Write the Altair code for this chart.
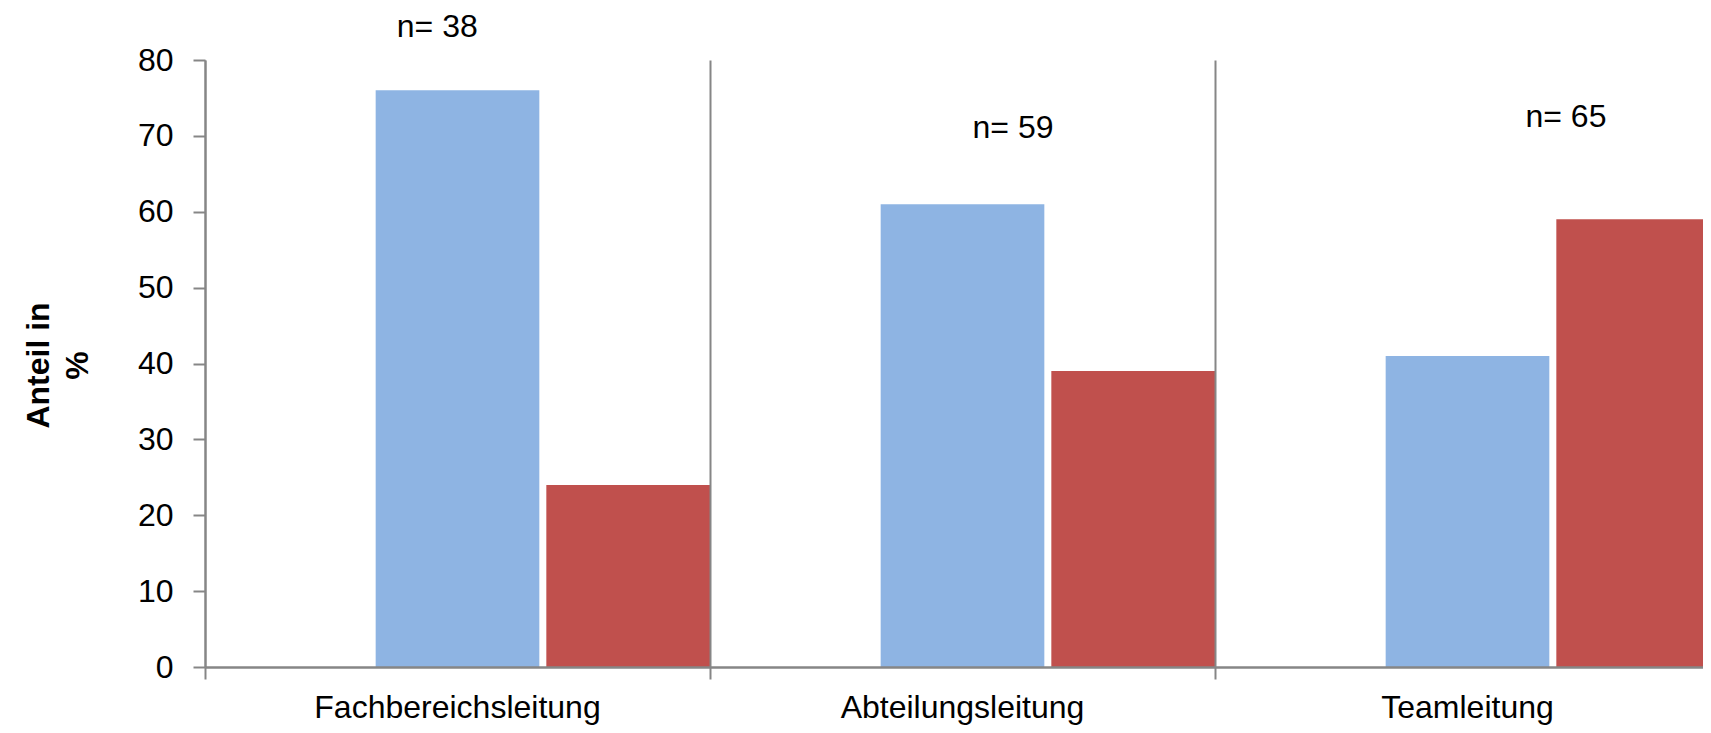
import altair as alt
import pandas as pd

# --- Daten ---
kategorien = ["Fachbereichsleitung", "Abteilungsleitung", "Teamleitung"]
reihen = ["Reihe 1", "Reihe 2", "Reihe 3"]  # Reihe 1 ist leer (wie im Original)
werte_blau = [76, 61, 41]
werte_rot = [24, 39, 59]
n_texte = ["n= 38", "n= 59", "n= 65"]
n_hoehe = [84.3, 71.1, 72.5]
n_lage = [0.46, 0.60, 0.695]
y_ticks = [0, 10, 20, 30, 40, 50, 60, 70, 80]
farben = ["#8EB4E3", "#C0504D"]

rows = []
for k, b, r in zip(kategorien, werte_blau, werte_rot):
    rows.append({"kat": k, "reihe": reihen[1], "wert": b})
    rows.append({"kat": k, "reihe": reihen[2], "wert": r})
df = pd.DataFrame(rows)

FONT = "Liberation Sans, Arial, sans-serif"
FS = 32
GRAU = "#868686"

x_scale = alt.Scale(domain=kategorien, range=[0, 1515], paddingInner=0, paddingOuter=0)
y_scale = alt.Scale(domain=[0, 80], nice=False, zero=True)

x_axis = alt.Axis(
    title=None, bandPosition=0, grid=True, gridColor=GRAU, gridWidth=2,
    ticks=True, tickSize=12, tickWidth=2, tickColor=GRAU,
    domainColor=GRAU, domainWidth=2.5,
    labelPadding=13, labelFont=FONT, labelFontSize=FS, labelLimit=0,
    labelColor="black", labelAngle=0, labelOverlap=False, labelFlush=False,
    zindex=1,
)
y_axis = alt.Axis(
    values=y_ticks, grid=False, domainColor=GRAU, domainWidth=2,
    tickSize=12, tickWidth=2, tickColor=GRAU,
    labelFont=FONT, labelFontSize=FS, labelColor="black", labelPadding=20,
    title=["Anteil in", "%"], titleFont=FONT, titleFontSize=FS, titleFontWeight="bold",
    titleColor="black", titleAngle=-90, titleX=-150, titleY=305,
    titleAlign="center", titleBaseline="bottom", titleLineHeight=39,
)

bars = alt.Chart(df).mark_bar(clip=True).encode(
    x=alt.X("kat:N", scale=x_scale, sort=kategorien, axis=x_axis),
    xOffset=alt.XOffset("reihe:N", scale=alt.Scale(domain=reihen, paddingInner=0.041, paddingOuter=0)),
    y=alt.Y("wert:Q", scale=y_scale, axis=y_axis),
    color=alt.Color("reihe:N", scale=alt.Scale(domain=reihen[1:], range=farben), legend=None),
)

layers = [bars]
for i in range(len(kategorien)):
    d = pd.DataFrame({"kat": [kategorien[i]], "text": [n_texte[i]], "y": [n_hoehe[i]]})
    t = alt.Chart(d).mark_text(
        font=FONT, fontSize=FS, color="black", align="center", baseline="middle"
    ).encode(
        x=alt.X("kat:N", bandPosition=n_lage[i], scale=x_scale, sort=kategorien, axis=x_axis),
        y=alt.Y("y:Q", scale=y_scale, axis=y_axis),
        text="text:N",
    )
    layers.append(t)

chart = alt.layer(*layers).properties(
    width=1498, height=607,
    autosize=alt.AutoSizeParams(type="none"),
    padding={"left": 197, "top": 52, "right": 0, "bottom": 58},
    background="white",
).configure_view(stroke=None)

chart.save("out.html", embed_options={"renderer": "svg", "actions": False})
